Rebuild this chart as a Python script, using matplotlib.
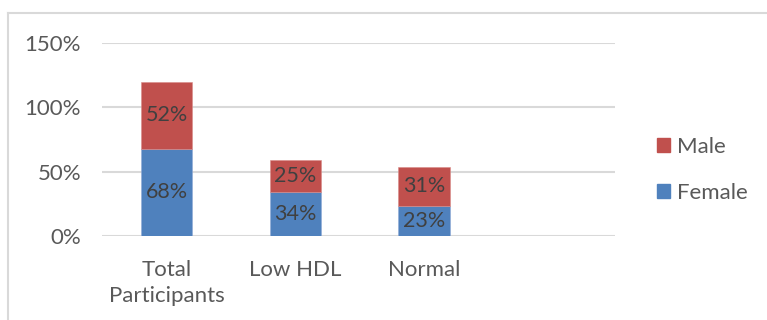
#!/usr/bin/env python

import matplotlib
matplotlib.use('Agg')
import matplotlib.pyplot as plt
from matplotlib.lines import Line2D
from matplotlib.patches import Patch
import numpy as np

categories = ['Total\nParticipants', 'Low HDL', 'Normal']
female = [68, 34, 23]
male = [52, 25, 31]
yticks = [0, 50, 100, 150]

BLUE = '#4F81BD'
RED = '#C0504D'
GRID = '#D9D9D9'
TXT = '#595959'
LBL = '#404040'
FS = 16

plt.rcParams['font.family'] = ['Lato', 'DejaVu Sans']

fig = plt.figure(figsize=(7.67, 3.2), dpi=100)
ax = fig.add_axes([102 / 767, 1 - 236 / 320, 513 / 767, 193 / 320])

x = np.arange(len(categories))
w = 0.4
b1 = ax.bar(x, female, w, color=BLUE, edgecolor='#8FAAD6', linewidth=0.4, zorder=3)
b2 = ax.bar(x, male, w, bottom=female, color=RED, edgecolor='#D98C8A', linewidth=0.4, zorder=3)

for bars, vals in ((b1, female), (b2, male)):
    for r, v in zip(bars, vals):
        ax.text(r.get_x() + r.get_width() / 2, r.get_y() + r.get_height() / 2,
                '%d%%' % v, ha='center', va='center', color=LBL, fontsize=15.5, zorder=4)

ax.set_xlim(-0.5, 3.48)
ax.set_ylim(0, 150)
ax.set_yticks(yticks)
ax.set_yticklabels(['%d%%' % t for t in yticks])
ax.set_xticks(x)
ax.set_xticklabels(categories, linespacing=1.4)
ax.tick_params(axis='y', length=0, pad=15, labelsize=FS, labelcolor=TXT)
ax.tick_params(axis='x', length=0, pad=17, labelsize=FS, labelcolor=TXT)
ax.grid(axis='y', color=GRID, linewidth=1.5, zorder=0)
for s in ax.spines.values():
    s.set_visible(False)

handles = [Patch(color=RED, label='Male'), Patch(color=BLUE, label='Female')]
fig.legend(handles=handles, loc='center left', bbox_to_anchor=(657 / 767, 1 - 170 / 320),
           frameon=False, fontsize=FS, labelcolor=TXT, handlelength=0.6,
           handleheight=0.6, handletextpad=0.3, labelspacing=1.15,
           borderpad=0, borderaxespad=0)

# outer chart frame (top and left edges only)
fig.add_artist(Line2D([8 / 767, 1], [1 - 13 / 320, 1 - 13 / 320],
                      transform=fig.transFigure, color=GRID, linewidth=1.5))
fig.add_artist(Line2D([8 / 767, 8 / 767], [0, 1 - 13 / 320],
                      transform=fig.transFigure, color=GRID, linewidth=1.5))

fig.savefig('out.png', dpi=100)
